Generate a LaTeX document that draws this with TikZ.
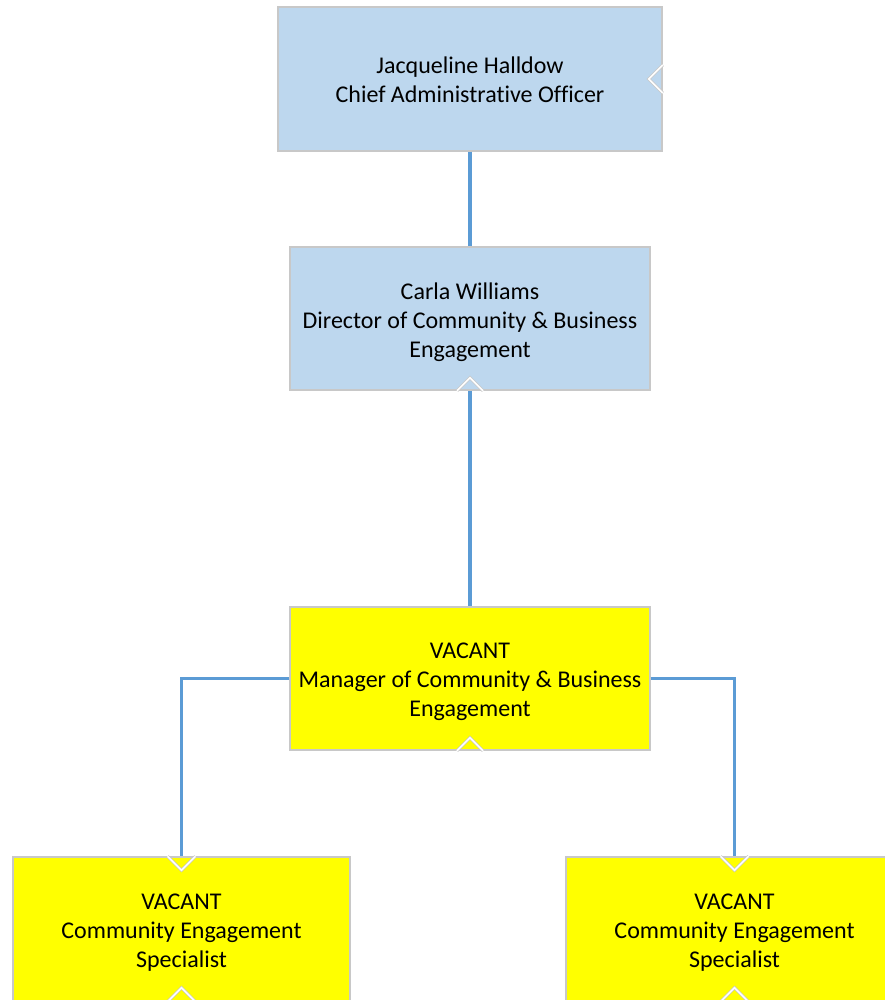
\documentclass[tikz,border=0pt]{standalone}
\usepackage{fontspec}
\setmainfont{Carlito}[Ligatures={NoCommon}]
\usetikzlibrary{calc}
\definecolor{boxblue}{HTML}{BDD7EE}
\definecolor{boxyellow}{HTML}{FFFF00}
\definecolor{boxline}{HTML}{C8C8C8}
\definecolor{conn}{HTML}{5B9BD5}
\tikzset{
  orgbox/.style={draw=boxline, line width=1.5pt, inner sep=0pt},
  bluebox/.style={orgbox, fill=boxblue},
  yellowbox/.style={orgbox, fill=boxyellow},
  boxtext/.style={align=center, inner sep=0pt, text=black,
    font=\fontsize{24}{29}\selectfont},
  link/.style={draw=conn, line width=3.5pt},
  notchout/.style={draw=boxline, line width=3pt, line join=miter},
  notchin/.style={draw=white, line width=1.6pt, line join=miter},
}
\newcommand{\notch}[3]{% #1 anchor point, #2 half width, #3 tip offset
  \draw[notchout] ($#1+(-#2,0)$) -- ($#1+(0,#3)$) -- ($#1+(#2,0)$);
  \draw[notchin] ($#1+(-#2,0)$) -- ($#1+(0,#3)$) -- ($#1+(#2,0)$);
}
\begin{document}
\begin{tikzpicture}[x=1pt, y=-1pt]
\useasboundingbox (0,0) rectangle (884,1000);
\fill[white] (0,0) rectangle (884,1000);
\node[bluebox, minimum width=384pt, minimum height=144pt] (ceo) at (470,79) {};
\node[boxtext] (ceoT) at ($(ceo.center)+(0,1)$)
  {Jacqueline Halldow\\Chief Administrative Officer};
\node[bluebox, minimum width=360pt, minimum height=143pt] (dir) at (470,318.5) {};
\node[boxtext] (dirT) at ($(dir.center)+(0,3.5)$)
  {Carla Williams\\Director of Community \& Business\\Engagement};
\node[yellowbox, minimum width=360pt, minimum height=143pt] (mgr) at (470,678.5) {};
\node[boxtext] (mgrT) at ($(mgr.center)+(0,3.5)$)
  {VACANT\\Manager of Community \& Business\\Engagement};
\node[yellowbox, minimum width=337pt, minimum height=144pt] (s1) at (181.5,929) {};
\node[boxtext] (s1T) at ($(s1.center)+(0,4)$)
  {VACANT\\Community Engagement\\Specialist};
\node[yellowbox, minimum width=337pt, minimum height=144pt] (s2) at (734.5,929) {};
\node[boxtext] (s2T) at ($(s2.center)+(0,4)$)
  {VACANT\\Community Engagement\\Specialist};
\draw[link] (ceo.south) -- (dir.north);
\draw[link] (dir.south) -- (mgr.north);
\draw[link] (mgr.west) -| (s1.north);
\draw[link] (mgr.east) -| (s2.north);
% notches
\draw[notchout] ($(ceo.east)+(0,-14)$) -- ($(ceo.east)+(-14,0)$) -- ($(ceo.east)+(0,14)$);
\draw[notchin] ($(ceo.east)+(0,-14)$) -- ($(ceo.east)+(-14,0)$) -- ($(ceo.east)+(0,14)$);
\notch{(dir.south)}{13}{-13}
\notch{(mgr.south)}{13}{-13}
\notch{(s1.north)}{14}{14}
\notch{(s2.north)}{14}{14}
\notch{(s1.south)}{14}{-14}
\notch{(s2.south)}{14}{-14}
\end{tikzpicture}
\end{document}
